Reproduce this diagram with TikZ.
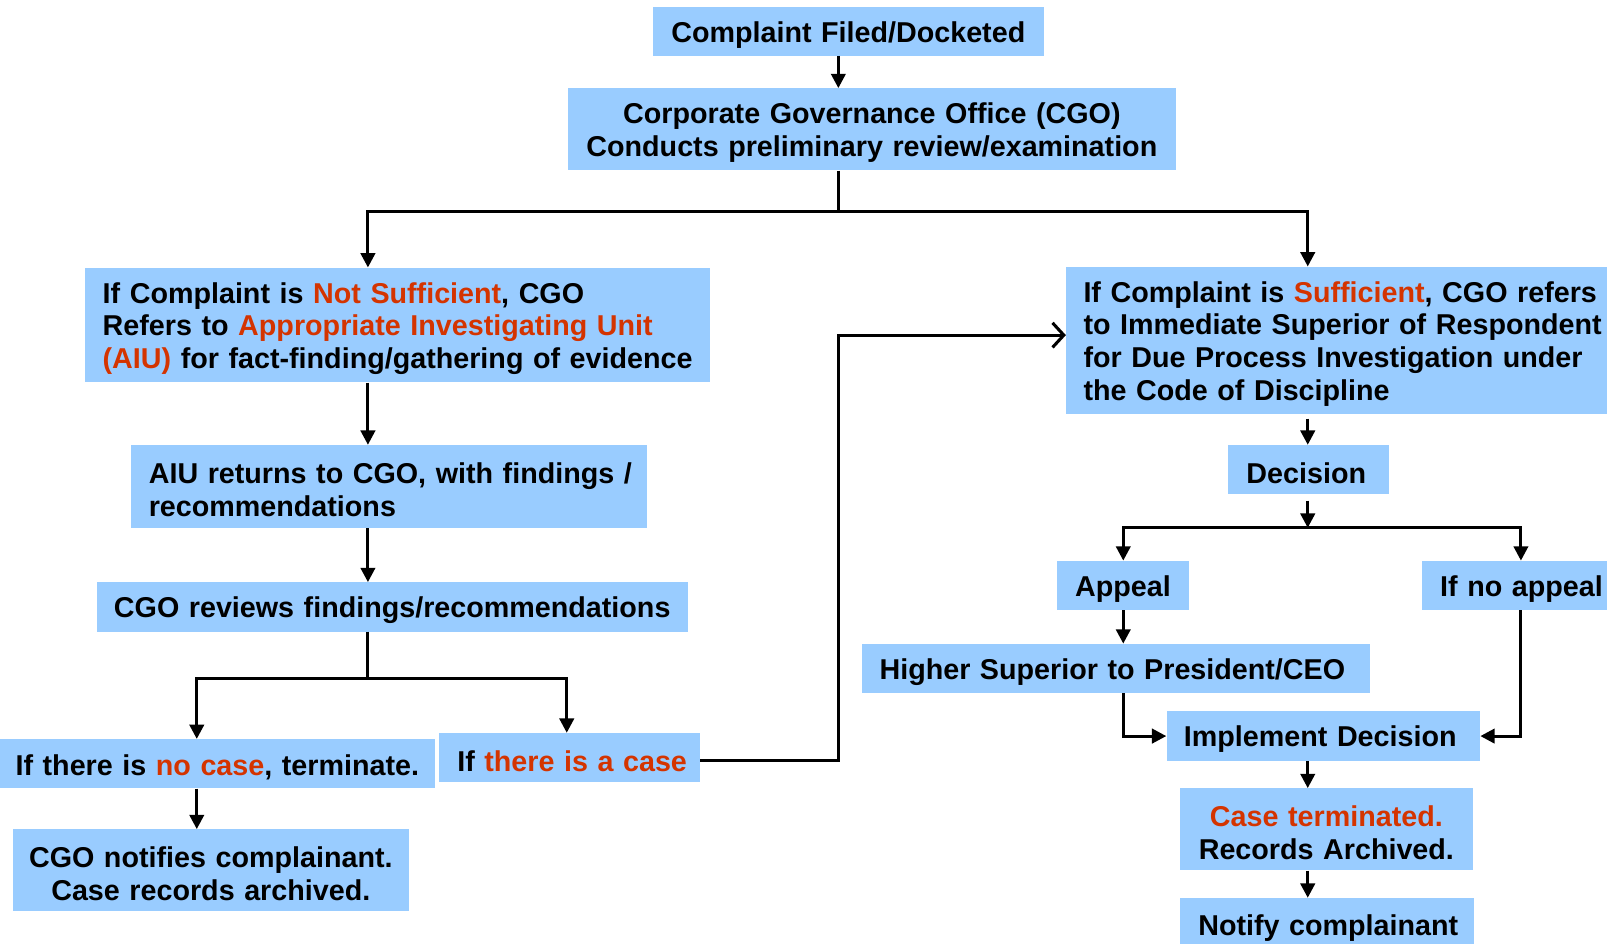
\documentclass[tikz,border=0pt]{standalone}
\usepackage{fontspec}
\setmainfont{Liberation Sans}
\usetikzlibrary{arrows.meta}
\definecolor{boxblue}{RGB}{153,204,255}
\definecolor{hired}{RGB}{212,52,0}
\newcommand{\hl}[1]{\textcolor{hired}{#1}}
\tikzset{
  box/.style={fill=boxblue, draw=none, anchor=north west, inner ysep=0pt,
    font=\fontsize{28}{32}\selectfont\bfseries,
    execute at begin node={\rule{0pt}{27pt}}},
  lbox/.style={box, align=left},
  cbox/.style={box, align=center},
  conn/.style={line width=3pt, draw=black},
  arr/.style={conn, -{Triangle[length=14pt,width=14pt]}},
  openarr/.style={conn, -{Straight Barb[length=11pt,width=24pt,line width=3pt]}},
}
\begin{document}
\begin{tikzpicture}[x=1pt,y=-1pt]
\useasboundingbox (0,0) rectangle (1568,921);
\clip (0,0) rectangle (1568,921);
% boxes
\node[cbox, text width=381pt, inner xsep=0pt, minimum height=47pt] (cf) at (637,7) {Complaint Filed/Docketed};
\node[cbox, text width=593pt, inner xsep=0pt, minimum height=80pt] (cgo) at (554,86) {Corporate Governance Office (CGO)\\Conducts preliminary review/examination};
\node[lbox, text width=576pt, inner xsep=17pt, minimum height=112pt] (ns) at (83,261)
  {\mbox{If Complaint is \hl{Not Sufficient}, CGO}\\\mbox{Refers to \hl{Appropriate Investigating Unit}}\\\mbox{\hl{(AIU)} for fact-finding/gathering of evidence}};
\node[lbox, text width=526pt, inner xsep=17pt, minimum height=144pt] (suf) at (1040,260)
  {\mbox{If Complaint is \hl{Sufficient}, CGO refers}\\\mbox{to Immediate Superior of Respondent}\\\mbox{for Due Process Investigation under}\\\mbox{the Code of Discipline}};
\node[lbox, text width=469pt, inner xsep=17pt, minimum height=81pt] (aiu) at (128,434)
  {\mbox{AIU returns to CGO, with findings /}\\\mbox{recommendations}};
\node[lbox, text width=543pt, inner xsep=17pt, minimum height=48pt] (rev) at (94,568)
  {\mbox{CGO reviews findings/recommendations}};
\node[lbox, text width=394pt, inner xsep=15pt, minimum height=48pt] (nocase) at (0,721)
  {\mbox{If there is \hl{no case}, terminate.}};
\node[lbox, text width=219pt, inner xsep=18pt, minimum height=48pt] (case) at (428,715)
  {\mbox{If \hl{there is a case}}};
\node[cbox, text width=387pt, inner xsep=0pt, minimum height=80pt] (notif) at (12,809)
  {CGO notifies complainant.\\Case records archived.};
\node[lbox, text width=121pt, inner xsep=18pt, minimum height=48pt] (dec) at (1198,434) {\mbox{Decision}};
\node[cbox, text width=129pt, inner xsep=0pt, minimum height=48pt] (app) at (1031,547) {Appeal};
\node[lbox, text width=180pt, inner xsep=18pt, minimum height=48pt] (noapp) at (1387,547) {\mbox{If no appeal}};
\node[lbox, text width=462pt, inner xsep=17pt, minimum height=48pt] (hs) at (841,628) {\mbox{Higher Superior to President/CEO}};
\node[lbox, text width=272pt, inner xsep=17pt, minimum height=48pt] (impl) at (1138,694) {\mbox{Implement Decision}};
\node[cbox, text width=286pt, inner xsep=0pt, minimum height=80pt] (term) at (1151,769)
  {\hl{Case terminated.}\\Records Archived.};
\node[lbox, text width=251pt, inner xsep=18pt, minimum height=52pt] (notify) at (1151,876) {\mbox{Notify complainant}};
% guide coordinates
\coordinate (xa) at (818,0);
\coordinate (xl) at (359,0);
\coordinate (xr) at (1276,0);
\coordinate (xc) at (192,0);
\coordinate (xd) at (553,0);
\coordinate (xap) at (1096,0);
\coordinate (xna) at (1484,0);
\coordinate (j1) at (818,206);
\coordinate (j2) at (359,662);
\coordinate (j3) at (1276,515);
\coordinate (k) at (818,327);
% connectors
\draw[arr] (cf.south -| xa) -- (cgo.north -| xa);
\draw[conn] (cgo.south -| xa) -- (j1);
\draw[arr] (j1) -| (ns.north -| xl);
\draw[arr] (j1) -| (suf.north -| xr);
\draw[arr] (ns.south -| xl) -- (aiu.north -| xl);
\draw[arr] (aiu.south -| xl) -- (rev.north -| xl);
\draw[conn] (rev.south -| xl) -- (j2);
\draw[arr] (j2) -| (nocase.north -| xc);
\draw[arr] (j2) -| (case.north -| xd);
\draw[arr] (nocase.south -| xc) -- (notif.north -| xc);
\draw[openarr] ([yshift=-3pt]case.east) -| (k) -- (k -| suf.west);
\draw[arr] ([yshift=-4pt]suf.south -| xr) -- (dec.north -| xr);
\draw[arr] ([yshift=-6pt]dec.south -| xr) -- (j3);
\draw[arr] (j3) -| (app.north -| xap);
\draw[arr] (j3) -| (noapp.north -| xna);
\draw[arr] (app.south -| xap) -- (hs.north -| xap);
\draw[arr] (hs.south -| xap) |- (impl.west);
\draw[arr] (noapp.south -| xna) |- (impl.east);
\draw[arr] (impl.south -| xr) -- (term.north -| xr);
\draw[arr] (term.south -| xr) -- (notify.north -| xr);
\end{tikzpicture}
\end{document}
